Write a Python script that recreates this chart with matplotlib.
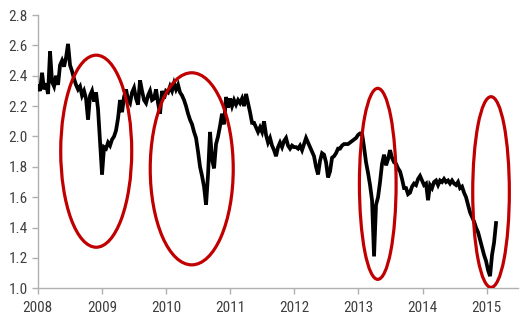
import numpy as np
import matplotlib
matplotlib.use("Agg")
import matplotlib.pyplot as plt
from matplotlib.patches import Ellipse
from matplotlib import font_manager

# Series values, evenly spaced in time
values = [
    2.33, 2.30, 2.42, 2.31, 2.35, 2.28, 2.56, 2.36, 2.33, 2.40,
    2.34, 2.47, 2.50, 2.46, 2.52, 2.61, 2.47, 2.43, 2.38, 2.34,
    2.31, 2.33, 2.27, 2.30, 2.25, 2.11, 2.27, 2.30, 2.23, 2.29,
    2.18, 1.96, 1.75, 1.93, 1.92, 1.96, 1.94, 1.98, 2.00, 2.04,
    2.12, 2.24, 2.16, 2.26, 2.31, 2.24, 2.22, 2.29, 2.32, 2.25,
    2.21, 2.37, 2.30, 2.24, 2.22, 2.27, 2.30, 2.24, 2.25, 2.31,
    2.22, 2.15, 2.30, 2.25, 2.30, 2.29, 2.33, 2.30, 2.35, 2.31,
    2.34, 2.29, 2.27, 2.24, 2.20, 2.15, 2.11, 2.08, 2.03, 1.99,
    1.90, 1.80, 1.74, 1.67, 1.55, 1.75, 2.03, 1.85, 1.79, 1.95,
    2.00, 2.07, 2.15, 2.08, 2.26, 2.19, 2.25, 2.20, 2.24, 2.21,
    2.24, 2.22, 2.25, 2.20, 2.28, 2.22, 2.16, 2.09, 2.09, 2.06,
    2.03, 2.06, 2.03, 2.10, 2.01, 1.96, 1.99, 1.94, 1.91, 1.87,
    1.93, 1.96, 1.93, 1.97, 1.99, 1.94, 1.92, 1.94, 1.93, 1.93,
    1.92, 1.94, 1.91, 1.95, 1.99, 1.96, 1.93, 1.90, 1.87, 1.80,
    1.75, 1.84, 1.89, 1.88, 1.83, 1.73, 1.77, 1.86, 1.87, 1.89,
    1.92, 1.92, 1.94, 1.95, 1.95, 1.95, 1.96, 1.97, 1.98, 1.99,
    2.01, 2.02, 2.02, 1.93, 1.83, 1.76, 1.68, 1.58, 1.21, 1.55,
    1.60, 1.70, 1.82, 1.88, 1.81, 1.85, 1.91, 1.86, 1.83, 1.82,
    1.79, 1.77, 1.72, 1.66, 1.66, 1.62, 1.63, 1.67, 1.69, 1.68,
    1.72, 1.74, 1.71, 1.68, 1.69, 1.58, 1.68, 1.66, 1.70, 1.71,
    1.68, 1.71, 1.70, 1.72, 1.70, 1.71, 1.69, 1.71, 1.69, 1.68,
    1.70, 1.66, 1.67, 1.63, 1.60, 1.55, 1.50, 1.47, 1.44, 1.40,
    1.37, 1.32, 1.27, 1.22, 1.18, 1.12, 1.08, 1.22, 1.30, 1.43,
]
start_year = 2008.005
end_year = 2015.145
years = np.linspace(start_year, end_year, len(values))

x_ticks = [2008, 2009, 2010, 2011, 2012, 2013, 2014, 2015]
x_labels = ["2008", "2009", "2010", "2011", "2012", "2013", "2014", "2015"]
y_ticks = [1.0, 1.2, 1.4, 1.6, 1.8, 2.0, 2.2, 2.4, 2.6, 2.8]
y_labels = ["1.0", "1.2", "1.4", "1.6", "1.8", "2.0", "2.2", "2.4", "2.6", "2.8"]

# Highlight ellipses: (center year, center value, width in years, height in value)
ellipses = [
    (2008.912, 1.903, 1.107, 1.265),
    (2010.401, 1.787, 1.294, 1.265),
    (2013.301, 1.688, 0.572, 1.258),
    (2015.067, 1.634, 0.571, 1.256),
]

# pick a condensed font if available
installed = {f.name for f in font_manager.fontManager.ttflist}
fam = "DejaVu Sans"
for cand in ["Roboto Condensed", "Liberation Sans Narrow", "Open Sans Condensed", "DejaVu Sans"]:
    if cand in installed:
        fam = cand
        break

fig = plt.figure(figsize=(5.32, 3.25), dpi=100)
ax = fig.add_axes([0.0709, 0.1129, 0.974 - 0.0709, 0.9538 - 0.1129])

ax.plot(years, values, color="black", lw=2.7, solid_joinstyle="miter", zorder=3)

for cx, cy, w, h in ellipses:
    ax.add_patch(Ellipse((cx, cy), w, h, fill=False, edgecolor="#c00000",
                         lw=2.3, zorder=4))

ax.set_xlim(2008, 2015.49)
ax.set_ylim(1.0, 2.8)
ax.set_xticks(x_ticks)
ax.set_xticklabels(x_labels)
ax.set_yticks(y_ticks)
ax.set_yticklabels(y_labels)

for s in ["top", "right"]:
    ax.spines[s].set_visible(False)
for s in ["left", "bottom"]:
    ax.spines[s].set_color("#b0b0b0")
    ax.spines[s].set_linewidth(1.0)

ax.tick_params(axis="both", direction="out", length=4, width=1.0,
               color="#b0b0b0", labelcolor="#404040", labelsize=11)
ax.tick_params(axis="x", pad=5)
ax.tick_params(axis="y", pad=3)
for lab in ax.get_xticklabels() + ax.get_yticklabels():
    lab.set_family(fam)
    if fam == "DejaVu Sans":
        lab.set_fontstretch("condensed")

fig.savefig("out.png", dpi=100)
